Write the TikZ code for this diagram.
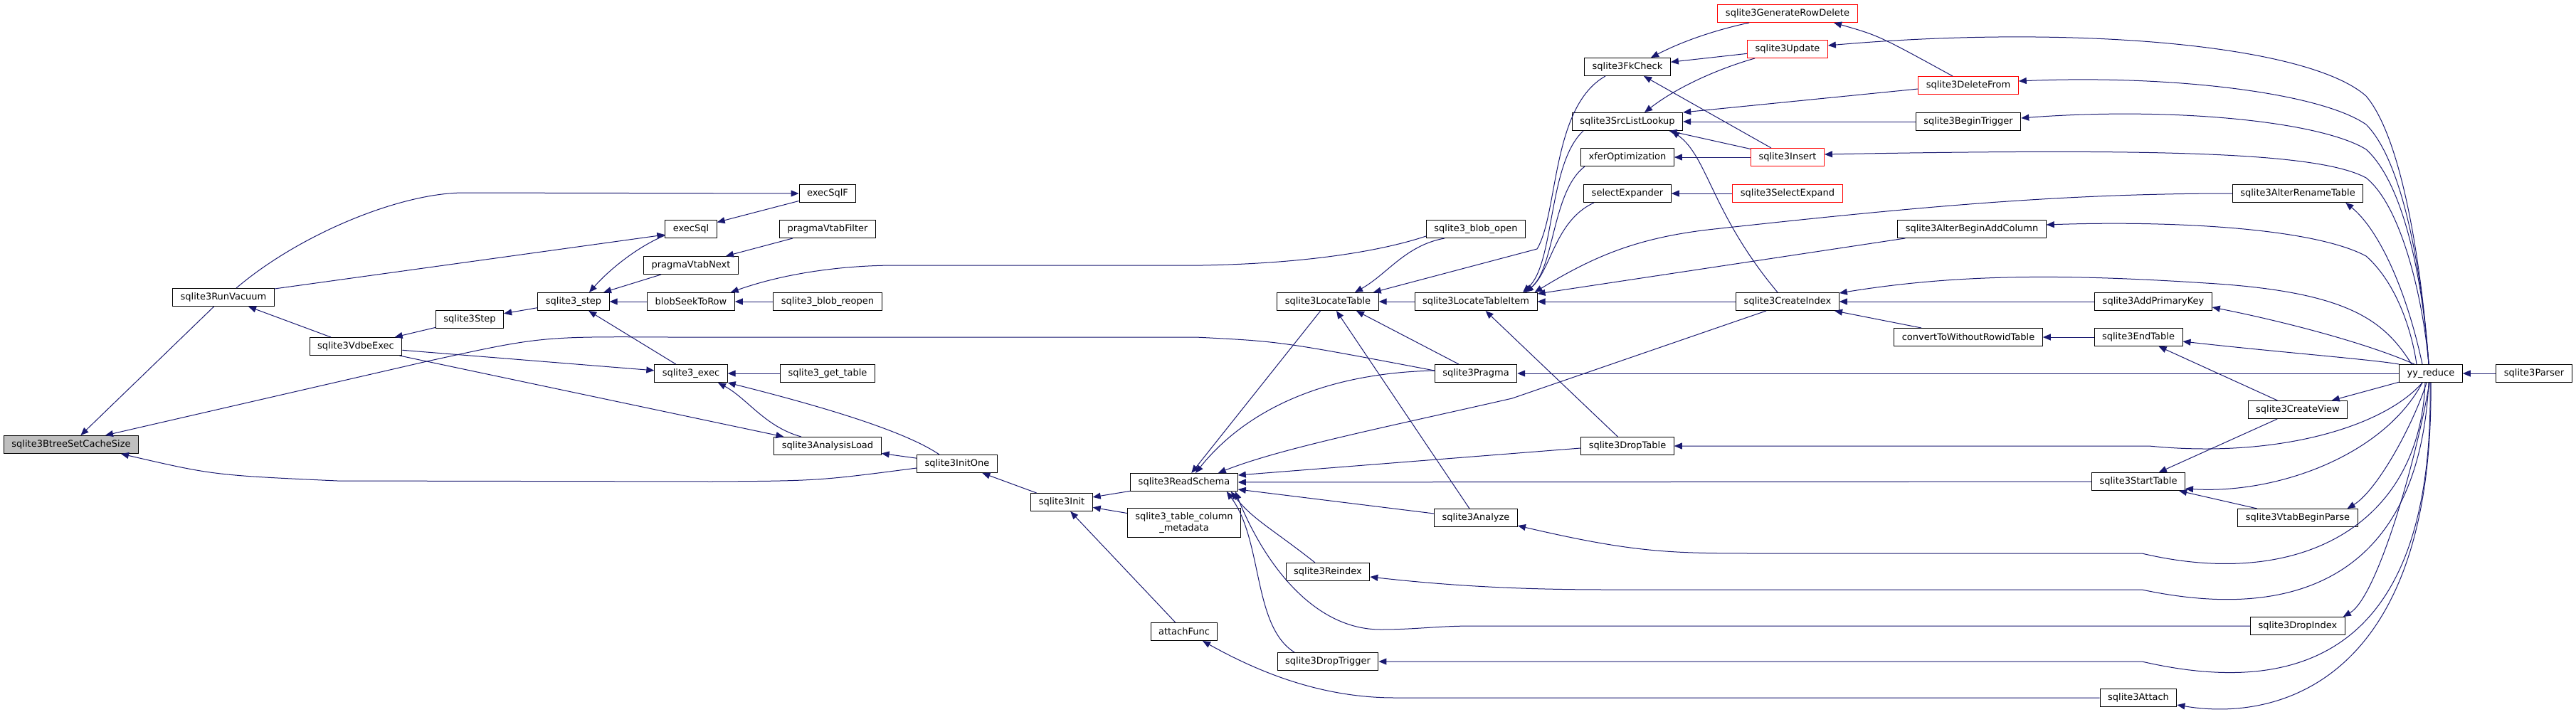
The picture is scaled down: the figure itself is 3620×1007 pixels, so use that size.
\documentclass[tikz,border=0pt]{standalone}
\usepackage{fontspec}
\setmainfont{DejaVu Sans}
\usetikzlibrary{arrows.meta}
\definecolor{cgEdge}{HTML}{191970}
\definecolor{cgRed}{HTML}{FF0000}
\definecolor{cgGray}{HTML}{BFBFBF}
\tikzset{
  cg node/.style={draw=black, fill=white, line width=1pt, inner xsep=11pt, inner ysep=0pt, minimum height=25pt, font=\fontsize{13}{16}\selectfont},
  cg red/.style={cg node, draw=cgRed},
  cg root/.style={cg node, fill=cgGray},
  cg edge/.style={draw=cgEdge, line width=1pt, {Triangle[length=11pt,width=9pt]}-},
}
\begin{document}
\begin{tikzpicture}[x=1pt, y=-1pt]
  \useasboundingbox (0,0) rectangle (3620,1007);
  % Left side: the function and its nearest callers
  \node[cg root] (cache) at (100,625) {sqlite3BtreeSetCacheSize};
  \node[cg node] (runvac) at (314,418) {sqlite3RunVacuum};
  \node[cg node] (vdbe) at (500,487) {sqlite3VdbeExec};
  \node[cg node] (step) at (660,449) {sqlite3Step};
  \node[cg node] (cstep) at (806,424) {sqlite3\_step};
  \node[cg node] (execsql) at (971,322) {execSql};
  \node[cg node] (pvnext) at (971,373) {pragmaVtabNext};
  \node[cg node] (blobseek) at (971,424) {blobSeekToRow};
  \node[cg node] (exec) at (971,525) {sqlite3\_exec};
  \node[cg node] (execsqlf) at (1163,272) {execSqlF};
  \node[cg node] (pvfilter) at (1163,322) {pragmaVtabFilter};
  \node[cg node] (blobreopen) at (1163,424) {sqlite3\_blob\_reopen};
  \node[cg node] (gettable) at (1163,525) {sqlite3\_get\_table};
  \node[cg node] (aload) at (1163,627) {sqlite3AnalysisLoad};
  \node[cg node] (initone) at (1345,652) {sqlite3InitOne};
  \node[cg node] (init) at (1492,706) {sqlite3Init};
  % Middle: schema and table lookup
  \node[cg node] (rschema) at (1664,678) {sqlite3ReadSchema};
  \node[cg node, minimum height=41pt, align=center] (tcm) at (1664,735) {sqlite3\_table\_column\\\_metadata};
  \node[cg node] (attachf) at (1664,888) {attachFunc};
  \node[cg node] (ltable) at (1866,424) {sqlite3LocateTable};
  \node[cg node] (reindex) at (1866,804) {sqlite3Reindex};
  \node[cg node] (droptrig) at (1866,930) {sqlite3DropTrigger};
  \node[cg node] (blobopen) at (2074,322) {sqlite3\_blob\_open};
  \node[cg node] (litem) at (2074,424) {sqlite3LocateTableItem};
  \node[cg node] (pragma) at (2074,525) {sqlite3Pragma};
  \node[cg node] (analyze) at (2074,728) {sqlite3Analyze};
  \node[cg node] (fkcheck) at (2287,94) {sqlite3FkCheck};
  \node[cg node] (srclist) at (2287,171) {sqlite3SrcListLookup};
  \node[cg node] (xfer) at (2287,221) {xferOptimization};
  \node[cg node] (selexp) at (2287,272) {selectExpander};
  \node[cg node] (droptable) at (2287,627) {sqlite3DropTable};
  \node[cg red] (rowdel) at (2512,19) {sqlite3GenerateRowDelete};
  \node[cg red] (update) at (2512,69) {sqlite3Update};
  \node[cg red] (insert) at (2512,221) {sqlite3Insert};
  \node[cg red] (selexpand) at (2512,272) {sqlite3SelectExpand};
  \node[cg node] (cindex) at (2512,424) {sqlite3CreateIndex};
  % Right side: parser actions
  \node[cg red] (delfrom) at (2766,120) {sqlite3DeleteFrom};
  \node[cg node] (btrigger) at (2766,171) {sqlite3BeginTrigger};
  \node[cg node] (addcol) at (2771,322) {sqlite3AlterBeginAddColumn};
  \node[cg node] (convert) at (2766,474) {convertToWithoutRowidTable};
  \node[cg node] (addpk) at (3026,424) {sqlite3AddPrimaryKey};
  \node[cg node] (endtable) at (3005,474) {sqlite3EndTable};
  \node[cg node] (starttable) at (3005,677) {sqlite3StartTable};
  \node[cg node] (attach) at (3005,981) {sqlite3Attach};
  \node[cg node] (rename) at (3229,272) {sqlite3AlterRenameTable};
  \node[cg node] (cview) at (3229,576) {sqlite3CreateView};
  \node[cg node] (vtab) at (3229,728) {sqlite3VtabBeginParse};
  \node[cg node] (dropindex) at (3229,880) {sqlite3DropIndex};
  \node[cg node] (yy) at (3416,525) {yy\_reduce};
  \node[cg node] (parser) at (3561,525) {sqlite3Parser};

  % Edges of the left part
  \draw[cg edge] (cache) -- (runvac);
  \draw[cg edge] ([xshift=48pt]cache.north) -- (600,508) .. controls (760,473) .. (940,474) -- (1680,474) .. controls (1800,480) .. ([yshift=4pt]pragma.west);
  \draw[cg edge] ([xshift=70pt]cache.south) .. controls (300,668) .. (474,676) -- (1000,677) .. controls (1150,676) .. ([yshift=-6pt]initone.west);
  \draw[cg edge] (runvac) -- (vdbe);
  \draw[cg edge] (execsqlf.west) -- (650,271) .. controls (560,272) and (420,330) .. ([xshift=18pt]runvac.north);
  \draw[cg edge] ([yshift=-8pt]execsql.west) -- ([yshift=12pt]runvac.east);
  \draw[cg edge] (execsql) -- (execsqlf);
  \draw[cg edge] ([xshift=22pt]cstep.north) .. controls (860,375) and (900,345) .. ([yshift=-9pt]execsql.west);
  \draw[cg edge] (cstep) -- (pvnext);
  \draw[cg edge] (pvnext) -- (pvfilter);
  \draw[cg edge] (cstep) -- (blobseek);
  \draw[cg edge] (blobseek) -- (blobreopen);
  \draw[cg edge] ([xshift=-6pt]blobseek.north east) .. controls (1100,385) and (1180,373) .. (1260,373) -- (1690,373) .. controls (1850,370) and (1950,350) .. ([yshift=-10pt]blobopen.west);
  \draw[cg edge] (step) -- (cstep);
  \draw[cg edge] (vdbe) -- (step);
  \draw[cg edge] (cstep) -- (exec);
  \draw[cg edge] (exec) -- (vdbe);
  \draw[cg edge] (aload) -- (vdbe);
  \draw[cg edge] (exec) -- (gettable);
  \draw[cg edge] ([xshift=38pt]exec.south) .. controls (1050,560) and (1075,600) .. ([xshift=-37pt]aload.north);
  \draw[cg edge] (exec.south east) .. controls (1150,570) and (1270,605) .. ([xshift=-25pt]initone.north);
  \draw[cg edge] (aload) -- (initone);
  \draw[cg edge] (initone) -- (init);
  \draw[cg edge] (init) -- (rschema);
  \draw[cg edge] (init) -- (tcm);
  \draw[cg edge] (init) -- (attachf);
  \draw[cg edge] ([xshift=26pt]attachf.south) .. controls (1760,940) and (1850,981) .. (1960,981) -- (attach.west);

  % Callers of sqlite3ReadSchema
  \draw[cg edge] (rschema) -- (ltable);
  \draw[cg edge] ([xshift=16pt]rschema.north) .. controls (1740,590) and (1840,525) .. ([yshift=4pt]pragma.west);
  \draw[cg edge] ([xshift=-28pt]rschema.north east) .. controls (1800,630) and (1950,600) .. (2125,560) -- ([xshift=-30pt]cindex.south);
  \draw[cg edge] ([yshift=-3pt]rschema.north east) -- ([yshift=-3pt]droptable.west);
  \draw[cg edge] (rschema) -- (starttable);
  \draw[cg edge] ([yshift=3pt]rschema.south east) -- ([yshift=6pt]analyze.west);
  \draw[cg edge] ([xshift=-10pt]rschema.south east) .. controls (1760,730) and (1790,745) .. ([xshift=-18pt]reindex.north);
  \draw[cg edge] ([xshift=-4pt]rschema.south east) .. controls (1780,800) and (1850,885) .. (1940,885) .. controls (1990,885) and (2020,880) .. (2070,880) -- (dropindex.west);
  \draw[cg edge] ([xshift=-16pt]rschema.south east) .. controls (1775,760) and (1760,880) .. ([xshift=-47pt]droptrig.north);

  % Callers of sqlite3LocateTable and sqlite3LocateTableItem
  \draw[cg edge] ([xshift=38pt]ltable.north) .. controls (1950,385) and (1975,345) .. ([xshift=-44pt]blobopen.south);
  \draw[cg edge] ([xshift=-8pt]ltable.north east) -- (2160,350) .. controls (2190,300) and (2180,150) .. ([xshift=-31pt]fkcheck.south);
  \draw[cg edge] (ltable) -- (litem);
  \draw[cg edge] ([xshift=40pt]ltable.south) -- ([xshift=-24pt]pragma.north);
  \draw[cg edge] ([xshift=12pt]ltable.south) -- ([xshift=-9pt]analyze.north);
  \draw[cg edge] ([xshift=66pt]litem.north) .. controls (2185,370) and (2175,230) .. ([xshift=-62pt]srclist.south);
  \draw[cg edge] ([xshift=68pt]litem.north) .. controls (2185,380) and (2180,270) .. ([xshift=-60pt]xfer.south);
  \draw[cg edge] ([xshift=70pt]litem.north) .. controls (2180,380) and (2185,310) .. ([xshift=-47pt]selexp.south);
  \draw[cg edge] ([xshift=-4pt]litem.north east) .. controls (2240,360) and (2300,335) .. (2400,323) .. controls (2700,290) and (2900,272) .. (rename.west);
  \draw[cg edge] ([yshift=-2pt]litem.north east) -- ([xshift=11pt]addcol.south west);
  \draw[cg edge] (litem) -- (cindex);
  \draw[cg edge] (litem) -- (droptable);

  % SrcListLookup, FkCheck and friends
  \draw[cg edge] ([xshift=24pt]srclist.north) .. controls (2360,120) and (2420,95) .. ([xshift=-46pt]update.south);
  \draw[cg edge] (srclist.north east) -- ([yshift=-5pt]delfrom.west);
  \draw[cg edge] (srclist) -- (btrigger);
  \draw[cg edge] (srclist) -- (insert);
  \draw[cg edge] ([xshift=-16pt]srclist.south east) .. controls (2400,220) and (2405,300) .. ([xshift=-14pt]cindex.north);
  \draw[cg edge] ([xshift=33pt]fkcheck.north) .. controls (2370,55) and (2420,40) .. ([xshift=-54pt]rowdel.south);
  \draw[cg edge] (fkcheck) -- (update);
  \draw[cg edge] (fkcheck) -- (insert);
  \draw[cg edge] (xfer) -- (insert);
  \draw[cg edge] (selexp) -- (selexpand);
  \draw[cg edge] ([xshift=65pt]rowdel.south) .. controls (2640,50) .. ([xshift=-22pt]delfrom.north);
  \draw[cg edge] (cindex) -- (addpk);
  \draw[cg edge] (cindex) -- (convert);
  \draw[cg edge] (convert) -- (endtable);
  \draw[cg edge] (endtable) -- (cview);
  \draw[cg edge] (starttable) -- (cview);
  \draw[cg edge] (starttable) -- (vtab);
  \draw[cg edge] (cview) -- (yy);
  \draw[cg edge] (yy) -- (parser);
  \draw[cg edge] (pragma) -- (yy);

  % Fan of yy_reduce, upper half
  \draw[cg edge] ([yshift=5pt]update.east) .. controls (2900,35) and (3240,60) .. (3325,135) .. controls (3380,200) and (3405,400) .. ([xshift=-3pt]yy.north);
  \draw[cg edge] ([yshift=6pt]delfrom.east) .. controls (3050,105) and (3260,130) .. (3325,175) .. controls (3380,230) and (3405,400) .. ([xshift=-3pt]yy.north);
  \draw[cg edge] ([yshift=5pt]btrigger.east) .. controls (3050,150) and (3260,170) .. (3325,210) .. controls (3380,260) and (3405,400) .. ([xshift=-3pt]yy.north);
  \draw[cg edge] ([yshift=4pt]insert.east) .. controls (3050,208) and (3260,215) .. (3325,250) .. controls (3375,290) and (3405,420) .. ([xshift=-3pt]yy.north);
  \draw[cg edge] ([xshift=-25pt]rename.south east) .. controls (3340,320) and (3380,400) .. ([xshift=-12pt]yy.north);
  \draw[cg edge] ([yshift=6pt]addcol.east) .. controls (3050,310) and (3250,320) .. (3325,360) .. controls (3370,400) and (3390,470) .. ([xshift=-20pt]yy.north);
  \draw[cg edge] ([yshift=-1pt]cindex.north east) .. controls (2750,385) and (2900,385) .. (3100,398) .. controls (3300,410) and (3350,450) .. ([xshift=-27pt]yy.north);
  \draw[cg edge] ([yshift=-8pt]addpk.east) .. controls (3200,450) and (3320,480) .. ([xshift=-23pt]yy.north);
  \draw[cg edge] ([yshift=-6pt]endtable.east) .. controls (3200,495) and (3330,505) .. (yy.north west);

  % Fan of yy_reduce, lower half
  \draw[cg edge] (droptable.east) -- (3020,627) .. controls (3200,645) and (3350,600) .. ([xshift=-12pt]yy.south);
  \draw[cg edge] ([yshift=-10pt]starttable.east) .. controls (3200,695) and (3350,640) .. ([xshift=-12pt]yy.south);
  \draw[cg edge] ([xshift=-15pt]vtab.north east) .. controls (3340,690) and (3390,600) .. ([xshift=-6pt]yy.south);
  \draw[cg edge] ([yshift=-11pt]analyze.east) .. controls (2300,778) and (2350,778) .. (2480,778) -- (3010,778) .. controls (3230,830) and (3400,740) .. ([xshift=-8pt]yy.south);
  \draw[cg edge] ([yshift=-7pt]reindex.east) .. controls (2050,825) and (2150,829) .. (2260,829) -- (3010,829) .. controls (3250,880) and (3400,790) .. ([xshift=-3pt]yy.south);
  \draw[cg edge] ([xshift=-3pt]dropindex.north east) .. controls (3340,840) and (3395,650) .. ([xshift=-2pt]yy.south);
  \draw[cg edge] (droptrig.east) -- (3010,930) .. controls (3270,990) and (3420,880) .. ([xshift=-1pt]yy.south);
  \draw[cg edge] ([yshift=-10pt]attach.east) .. controls (3200,1015) and (3420,960) .. (yy.south);
\end{tikzpicture}
\end{document}
